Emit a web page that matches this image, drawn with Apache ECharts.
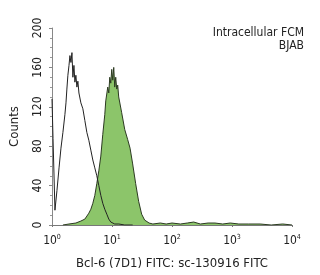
<!DOCTYPE html>
<html><head><meta charset="utf-8">
<script src="https://cdn.jsdelivr.net/npm/echarts@6/dist/echarts.min.js"></script>
<style>html,body{margin:0;padding:0;background:#fff}#c{width:320px;height:275px}</style>
</head><body><div id="c"></div>
<script>
// Fluorescence intensity (log scale) and counts
var controlIntensity = [1.00,1.04,1.12,1.21,1.31,1.41,1.52,1.64,1.71,1.77,1.84,1.92,1.99,2.07,2.15,2.23,2.32,2.41,2.50,2.60,2.70,2.81,3.03,3.27,3.53,3.81,4.11,4.44,4.79,5.17,5.58,6.03,6.51,7.02,7.58,8.19,8.84,9.54,11.1,13.0,16.3,22.1];
var controlCounts    = [128,  88,  15,  35,  58,  78,  94, 112, 124, 138, 152, 162, 172, 165, 175, 150, 162, 145, 152, 140, 146, 134, 124, 118, 106,  94,  86,  76,  66,  58,  50,  40,  30,  22,  16,  11,   6,   3,   1,   1,   0,   0];

var bcl6Intensity = [1.52,1.92,2.50,3.03,3.53,4.11,4.44,4.79,5.17,5.58,6.03,6.51,7.02,7.58,7.87,8.19,8.50,8.84,9.18,9.54,9.91,10.29,10.69,11.11,11.54,11.99,12.45,12.94,14.5,16.3,18.2,20.0,22.1,24.8,27.8,31.2,35.0,41.5,48,64,80,100,138,180,230,297,400,520,700,935,1300,1900,2944,4500,7000,10000];
var bcl6Counts    = [   0,   1,   2,   4,   6,  12,  16,  22,  30,  42,  55,  70,  92, 112, 126, 124, 140, 134, 150, 144, 158, 147, 160, 140, 150, 138, 142, 130, 114,  97,  87,  78,  62,  42,  24,  11,   5,   2,   1,  2,  1,  2,  1,  2,  3,  1,  2,  2,  1,  2,  1,  1,  1,  0,  1,  0];

var xTickExponents = [0,1,2,3,4];
var yTicks = [0,40,80,120,160,200];
var headerLines = ['Intracellular FCM','BJAB'];

function pairs(xs, ys){ return xs.map(function(x,i){ return [x, ys[i]]; }); }

var FONT = "'Liberation Sans Narrow','DejaVu Sans Condensed','Liberation Sans',sans-serif";
var chart = echarts.init(document.getElementById('c'), null, {renderer:'canvas'});
chart.setOption({
  animation:false,
  backgroundColor:'#fff',
  grid:{left:51,right:28,top:28,bottom:48},
  xAxis:{
    type:'log', logBase:10, min:1, max:10000,
    name:'Bcl-6 (7D1) FITC: sc-130916 FITC',
    nameLocation:'middle', nameGap:32,
    nameTextStyle:{fontFamily:FONT,fontSize:13,color:'#222'},
    axisLine:{lineStyle:{color:'#777',width:1}},
    axisTick:{show:true,length:2,lineStyle:{color:'#777'}},
    splitLine:{show:false},
    axisLabel:{
      margin:9, fontFamily:FONT, fontSize:12, color:'#222',
      formatter:function(v){ var e=Math.round(Math.log10(v)); return xTickExponents.indexOf(e)>=0 ? '10{s|'+e+'}' : ''; },
      rich:{s:{fontSize:7,verticalAlign:'top',fontFamily:FONT,color:'#222',padding:[0,0,7,0]}}
    }
  },
  yAxis:{
    type:'value', min:0, max:200, interval:40,
    name:'Counts', nameLocation:'middle', nameGap:31, nameRotate:90,
    nameTextStyle:{fontFamily:FONT,fontSize:13,color:'#222'},
    axisLine:{show:true,lineStyle:{color:'#888',width:1}},
    axisTick:{show:true,length:3,lineStyle:{color:'#888'}},
    minorTick:{show:true,splitNumber:4,length:2,lineStyle:{color:'#999'}},
    splitLine:{show:false},
    axisLabel:{rotate:90,margin:8,fontFamily:FONT,fontSize:12,color:'#222',
      formatter:function(v){ return yTicks.indexOf(v)>=0 ? String(v) : ''; }}
  },
  graphic:[
    {type:'text',right:16,top:27,style:{text:headerLines[0],fontFamily:FONT,fontSize:12,fill:'#222'}},
    {type:'text',right:16,top:40,style:{text:headerLines[1],fontFamily:FONT,fontSize:12,fill:'#222'}}
  ],
  series:[
    {type:'line',name:'Bcl-6',data:pairs(bcl6Intensity,bcl6Counts),symbol:'none',smooth:false,
     lineStyle:{color:'#2c3a22',width:1},areaStyle:{color:'#8cc56a',opacity:1},z:2},
    {type:'line',name:'control',data:pairs(controlIntensity,controlCounts),symbol:'none',smooth:false,
     lineStyle:{color:'#222',width:1},z:3}
  ]
});
</script></body></html>
